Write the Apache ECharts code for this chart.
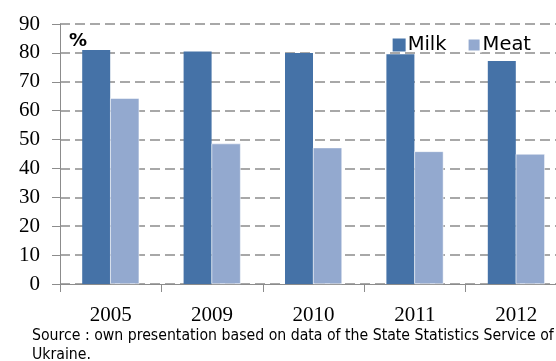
<!DOCTYPE html>
<html>
<head>
<meta charset="utf-8">
<script src="https://cdn.jsdelivr.net/npm/echarts@6/dist/echarts.min.js"></script>
<style>
html,body{margin:0;padding:0;background:#fff}
#chart{width:556px;height:361px}
</style>
</head>
<body>
<div id="chart"></div>
<script>
// milk / meat share chart
var years = ['2005', '2009', '2010', '2011', '2012'];
var milk = [81, 80.5, 80, 79.5, 77.2];
var meat = [64.3, 48.6, 47.2, 45.9, 45];
var yTicks = [0, 10, 20, 30, 40, 50, 60, 70, 80, 90];

(function(){
    var myChart = echarts.init(document.getElementById('chart'));
    var serif = 'Liberation Serif';
    var option = {
        animation: false,
        textStyle: {fontFamily: serif},
        grid: {left: 60, width: 507, top: 24, height: 260, outerBoundsMode: 'none', containLabel: false},
        legend: {
            right: 20,
            top: 30,
            itemWidth: 13,
            itemHeight: 13,
            itemGap: 20,
            icon: 'rect',
            textStyle: {fontFamily: 'DejaVu Sans', fontSize: 19.5, color: '#000', padding: [0, 0, 0, -3]},
            data: ['Milk', 'Meat']
        },
        xAxis: {
            type: 'category',
            data: years,
            axisLine: {lineStyle: {color: '#8c8c8c', width: 1}},
            axisTick: {show: true, length: 8, lineStyle: {color: '#8c8c8c'}},
            axisLabel: {fontFamily: serif, fontSize: 21, color: '#000', margin: 21}
        },
        yAxis: {
            type: 'value',
            min: 0,
            max: yTicks[yTicks.length - 1],
            interval: 10,
            axisLine: {show: true, lineStyle: {color: '#8c8c8c', width: 1}},
            axisTick: {show: true, length: 8, lineStyle: {color: '#8c8c8c'}},
            axisLabel: {
                margin: 20,
                formatter: '{n|{value}}',
                rich: {n: {fontFamily: serif, fontSize: 21, color: '#000'}}
            },
            splitLine: {lineStyle: {color: '#8c8c8c', type: [10, 5], width: 1.5}}
        },
        series: [
            {
                name: 'Milk',
                type: 'bar',
                data: milk,
                barWidth: 28,
                barGap: '0%',
                itemStyle: {color: '#4572A7'}
            },
            {
                name: 'Meat',
                type: 'bar',
                data: meat,
                barWidth: 29,
                itemStyle: {color: '#93A9CF', borderColor: '#fff', borderWidth: 0.5}
            }
        ],
        graphic: [
            {
                type: 'text',
                left: 69,
                top: 32,
                style: {text: '%', font: 'bold 18px "DejaVu Sans"', fill: '#000'}
            },
            {
                type: 'text',
                left: 32,
                top: 326,
                style: {
                    text: 'Source : own presentation based on data of the State Statistics Service of\nUkraine.',
                    font: '15.7px "DejaVu Sans Condensed"',
                    lineHeight: 19,
                    fill: '#000'
                }
            }
        ]
    };
    myChart.setOption(option);
    window.addEventListener('resize', function(){
        myChart.resize();
    });
})();
</script>
</body>
</html>
